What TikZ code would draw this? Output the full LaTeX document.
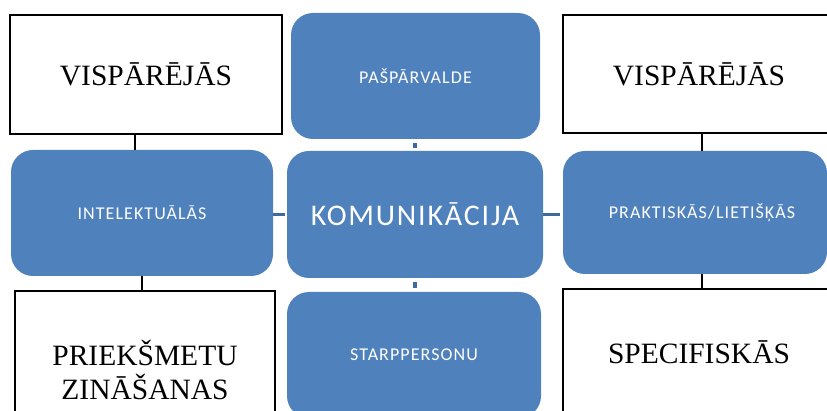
\documentclass[tikz,border=0pt]{standalone}
\usepackage{fontspec}
\setmainfont{Liberation Serif}
\newfontfamily\blueface{Carlito}[LetterSpace=6]

\definecolor{boxblue}{RGB}{79,129,189}
\definecolor{stubblue}{RGB}{62,106,158}

\begin{document}
\begin{tikzpicture}[x=1pt,y=-1pt,
  outline/.style={draw=black, line width=1.6pt, fill=white, inner sep=0pt,
    font=\fontsize{29.5}{34}\selectfont, align=center},
  bluebox/.style={fill=boxblue, rounded corners=22pt, inner sep=0pt,
    text=white, font=\blueface\fontsize{18}{21}\selectfont},
  link/.style={draw=black, line width=1.4pt},
  stub/.style={draw=stubblue, line width=3.5pt}]
\useasboundingbox (0,0) rectangle (827,411);
\clip (0,0) rectangle (827,411);

% outlined category boxes
\node[outline, minimum width=272pt, minimum height=119pt] (tl) at (146,74.5) {VISPĀRĒJĀS};
\node[outline, minimum width=260pt, minimum height=158pt] (bl) at (145,370) {PRIEKŠMETU\\ZINĀŠANAS};
\node[outline, minimum width=272pt, minimum height=118pt] (tr) at (699,74) {VISPĀRĒJĀS};
\node[outline, minimum width=272pt, minimum height=126pt] (br) at (699,352) {SPECIFISKĀS};

% blue rounded boxes
\node[bluebox, minimum width=249pt, minimum height=126pt] (pa) at (415.5,76) {PAŠPĀRVALDE};
\node[bluebox, minimum width=262pt, minimum height=126pt] (lb) at (142,213) {INTELEKTUĀLĀS};
\node[bluebox, minimum width=256pt, minimum height=127pt,
      font=\blueface\fontsize{30}{34}\selectfont] (ce) at (415,214.5) {KOMUNIKĀCIJA};
\node[bluebox, minimum width=264pt, minimum height=123pt] (rb) at (695,212.5) {\hspace*{14pt}PRAKTISKĀS/LIETIŠĶĀS};
\node[bluebox, minimum width=254pt, minimum height=126pt] (sp) at (414,355) {STARPPERSONU};

% black links between outlined and blue boxes
\draw[link] ([xshift=-11pt]tl.south) -- ([xshift=-11pt]tl.south |- lb.north);
\draw[link] (lb.south) -- (lb.south |- bl.north);
\draw[link] ([xshift=3pt]tr.south) -- ([xshift=3pt]tr.south |- rb.north);
\draw[link] ([xshift=7pt]rb.south) -- ([xshift=7pt]rb.south |- br.north);

% short blue stubs around the centre box
\draw[stub, shorten <=3pt, shorten >=4pt] (ce.north) -- (ce.north |- pa.south);
\draw[stub, shorten <=4pt, shorten >=4pt] (ce.south) -- (ce.south |- sp.north);
\draw[stub, shorten <=2pt] (ce.west) -- (ce.west -| lb.east);
\draw[stub, shorten >=3pt] (ce.east) -- (ce.east -| rb.west);
\end{tikzpicture}
\end{document}
